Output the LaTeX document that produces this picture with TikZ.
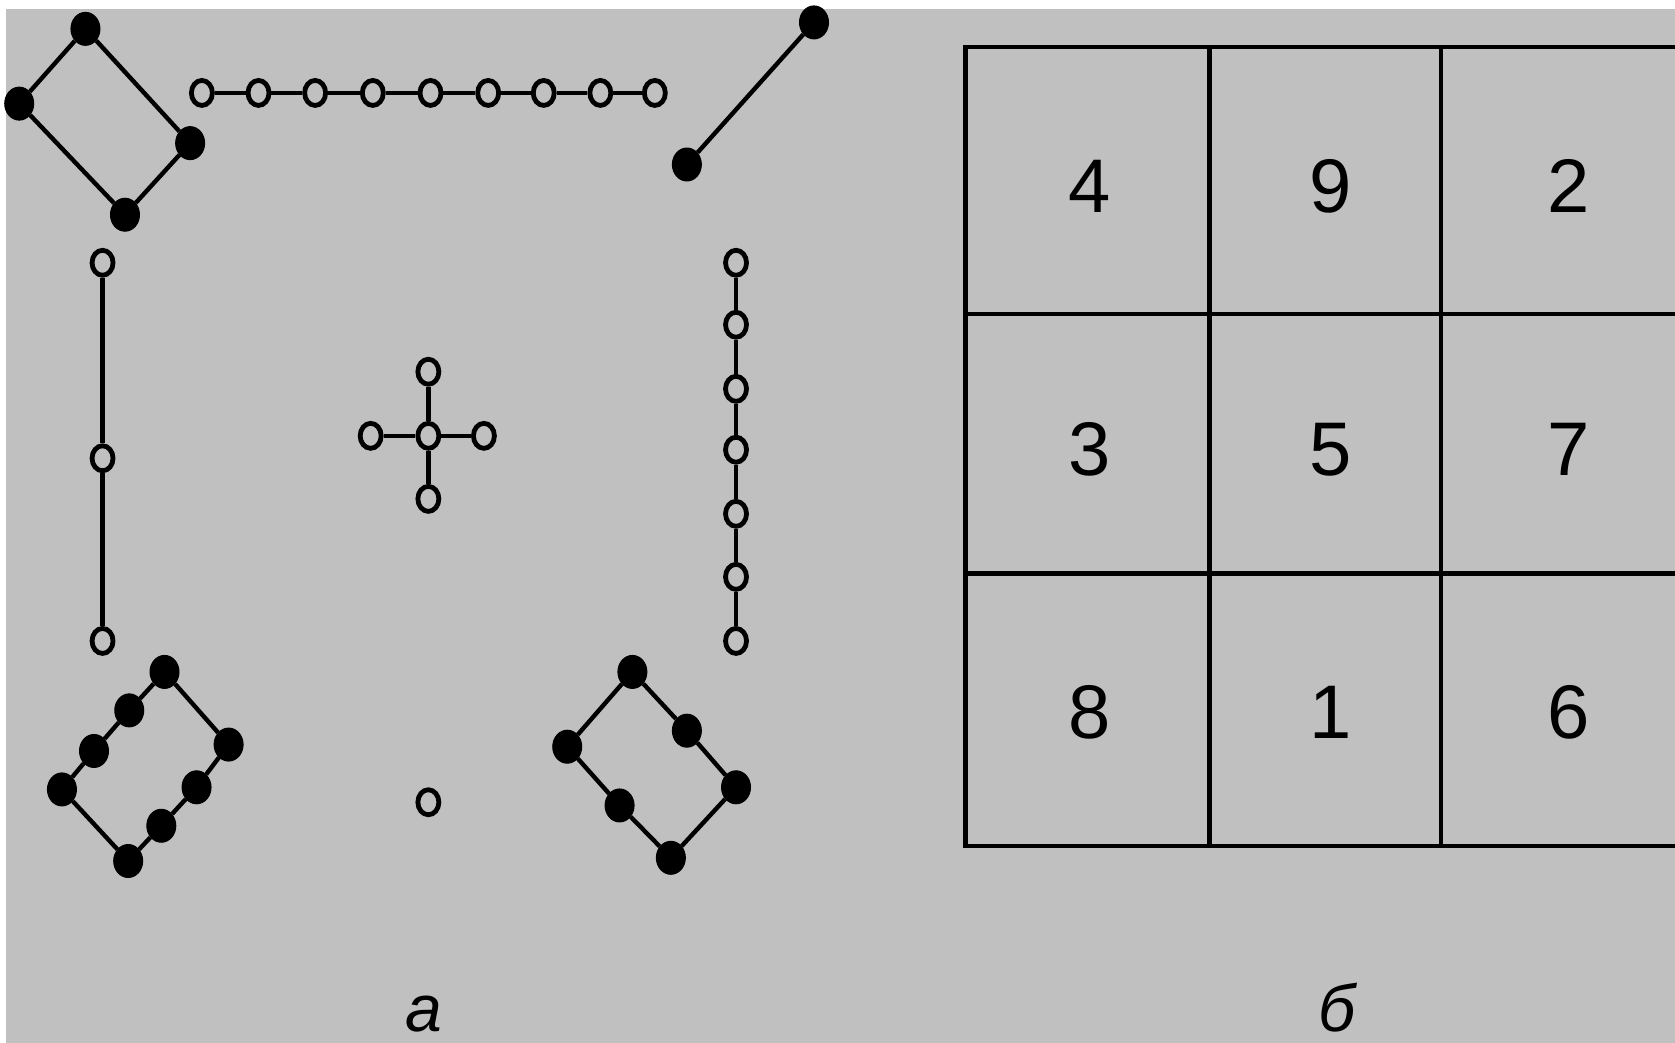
\documentclass[tikz,border=0pt]{standalone}
\usepackage{fontspec}
\setmainfont{Liberation Sans}
\usetikzlibrary{shapes.geometric}
\definecolor{bggray}{HTML}{C0C0C0}
\begin{document}
\begin{tikzpicture}[x=1.0683pt, y=-1.0683pt,
  hollow/.style={ellipse, draw=black, fill=bggray, line width=4.8pt, inner sep=0pt, minimum width=21pt, minimum height=25pt},
  solid/.style={ellipse, draw=black, fill=black, line width=1pt, inner sep=0pt, minimum width=29pt, minimum height=33pt},
  bond/.style={line width=4.4pt},
  gridline/.style={line width=4.6pt, line cap=rect},
  digit/.style={inner sep=0pt, font=\fontsize{76}{76}\selectfont},
  tag/.style={inner sep=0pt, anchor=base, font=\fontsize{66}{66}\selectfont\itshape}]
\useasboundingbox (0,0) rectangle (1568,976);
\clip (0,0) rectangle (1568,976);
\fill[white] (0,0) rectangle (1568,976);
\fill[bggray] (6,8) rectangle (1568,976);

% top left ring
\node[solid] (r1) at (80,27) {};
\node[solid] (r2) at (18,97) {};
\node[solid] (r3) at (178,134) {};
\node[solid] (r4) at (117,201) {};
\draw[bond] (r1) -- (r2) -- (r4) -- (r3) -- (r1);

% horizontal chain
\foreach \x [count=\i] in {189,242,295,349,403,457,509,562,613}
  \node[hollow] (h\i) at (\x,87) {};
\foreach \i [count=\j from 2] in {1,...,8}
  \draw[bond] (h\i) -- (h\j);

% top right pair
\node[solid] (p1) at (762,21) {};
\node[solid] (p2) at (643,154) {};
\draw[bond] (p1) -- (p2);

% left column
\node[hollow] (v1) at (96,246) {};
\node[hollow] (v2) at (96,429) {};
\node[hollow] (v3) at (96,600) {};
\draw[bond] (v1) -- (v2) -- (v3);

% cross
\node[hollow] (c0) at (401,408) {};
\node[hollow] (cn) at (401,348) {};
\node[hollow] (cs) at (401,467) {};
\node[hollow] (cw) at (347,408) {};
\node[hollow] (ce) at (453,408) {};
\foreach \k in {cn,cs,cw,ce}
  \draw[bond] (c0) -- (\k);

% right column
\foreach \y [count=\i] in {246,304,364,421,481,540,600}
  \node[hollow] (w\i) at (689,\y) {};
\foreach \i [count=\j from 2] in {1,...,6}
  \draw[bond] (w\i) -- (w\j);

% bottom left ring
\node[solid] (a1) at (154,629) {};
\node[solid] (a2) at (121,665) {};
\node[solid] (a3) at (88,703) {};
\node[solid] (a4) at (58,739) {};
\node[solid] (a5) at (120,806) {};
\node[solid] (a6) at (151,773) {};
\node[solid] (a7) at (184,737) {};
\node[solid] (a8) at (214,697) {};
\draw[bond] (a1) -- (a2) -- (a3) -- (a4) -- (a5) -- (a6) -- (a7) -- (a8) -- (a1);

% single
\node[hollow] (s1) at (401,751) {};

% bottom right ring
\node[solid] (b1) at (592,629) {};
\node[solid] (b2) at (643,684) {};
\node[solid] (b3) at (689,737) {};
\node[solid] (b4) at (628,803) {};
\node[solid] (b5) at (580,754) {};
\node[solid] (b6) at (531,699) {};
\draw[bond] (b1) -- (b2) -- (b3) -- (b4) -- (b5) -- (b6) -- (b1);

% square
\draw[gridline] (904,44) -- (1580,44);
\draw[gridline] (904,294) -- (1580,294);
\draw[gridline] (904,537) -- (1580,537);
\draw[gridline] (904,792) -- (1580,792);
\draw[gridline] (904,44) -- (904,792);
\draw[gridline] (1132,44) -- (1132,792);
\draw[gridline] (1349,44) -- (1349,792);

\node[digit] (m11) at (1020,174) {4};
\node[digit] (m12) at (1246,174) {9};
\node[digit] (m13) at (1468,174) {2};
\node[digit] (m21) at (1020,421) {3};
\node[digit] (m22) at (1246,421) {5};
\node[digit] (m23) at (1468,421) {7};
\node[digit] (m31) at (1020,667) {8};
\node[digit] (m32) at (1246,667) {1};
\node[digit] (m33) at (1468,667) {6};

\node[tag] (ta) at (397,966) {а};
\node[tag] (tb) at (1252,966) {б};
\end{tikzpicture}
\end{document}
